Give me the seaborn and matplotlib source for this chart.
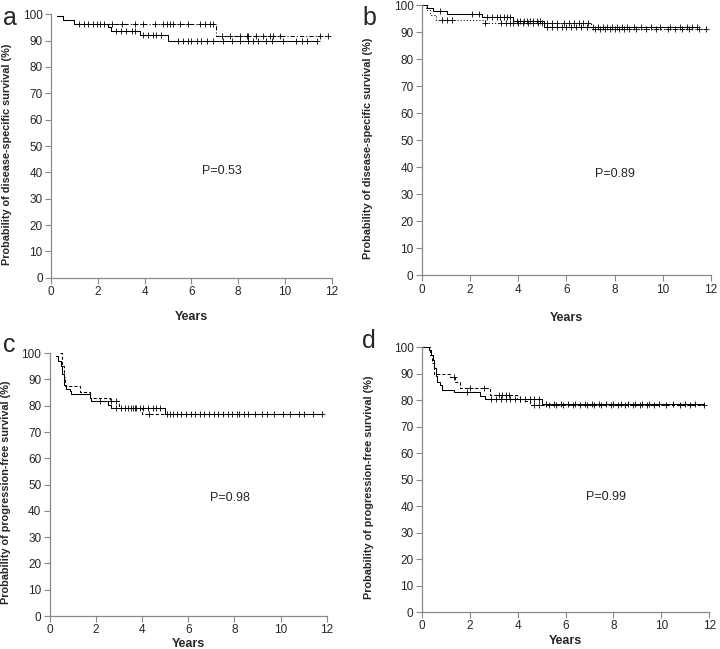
import numpy as np
import pandas as pd
import matplotlib
matplotlib.use("Agg")
import matplotlib.pyplot as plt
import seaborn as sns

sns.set_style("ticks")
plt.rcParams['font.family'] = ['Liberation Sans', 'DejaVu Sans']

# ---- data ----
# panel a: disease-specific survival
a_solid_t = [0.25, 0.5, 1.0, 2.45, 2.55, 3.8, 5.0, 11.35]
a_solid_s = [99.3, 97.8, 96.2, 95.0, 93.8, 92.2, 90.0, 90.0]
a_solid_cens = [1.2, 1.4, 1.6, 1.8, 1.95, 2.1, 2.25, 2.8, 3.0, 3.2, 3.45, 3.6,
                3.95, 4.15, 4.35, 4.5, 4.7, 5.44, 5.65, 5.86, 6.0, 6.22, 6.43,
                6.65, 6.93, 7.36, 7.72, 8.07, 8.43, 8.64, 8.86, 9.21, 9.43,
                9.92, 10.49, 10.71, 10.92, 11.35]
a_dash_t = [0.25, 0.5, 1.0, 7.05, 11.85]
a_dash_s = [99.3, 97.8, 96.2, 91.8, 91.8]
a_dash_cens = [2.59, 3.02, 3.59, 3.94, 4.44, 4.8, 4.94, 5.08, 5.22, 5.51, 5.86,
               6.36, 6.58, 6.79, 6.93, 7.29, 7.64, 8.07, 8.36, 8.43, 8.78, 9.07,
               9.35, 9.49, 9.78, 11.49, 11.84]

# panel b: disease-specific survival
b_solid_t = [0.0, 0.2, 0.45, 1.05, 2.5, 3.8, 5.05, 11.4]
b_solid_s = [100.0, 99.1, 97.9, 96.9, 95.6, 94.0, 92.1, 92.1]
b_solid_cens = [0.76, 2.07, 2.35, 2.7, 2.9, 3.1, 3.25, 3.39, 3.53, 3.67, 3.94,
                4.08, 4.22, 4.36, 4.5, 4.63, 4.77, 4.91, 5.2, 5.4, 5.6, 5.8,
                6.0, 6.2, 6.4, 6.6, 6.85, 7.1, 7.3, 7.5, 7.7, 7.9, 8.1, 8.3,
                8.5, 8.8, 9.1, 9.5, 9.9, 10.3, 10.7, 11.0, 11.2, 11.4]
b_dot_t = [0.0, 0.15, 0.35, 0.6, 2.6, 7.0, 11.8]
b_dot_s = [100.0, 98.1, 96.5, 94.5, 93.3, 91.0, 91.0]
b_dot_cens = [0.83, 1.04, 1.24, 2.63, 3.3, 3.5, 3.65, 3.8, 4.0, 4.2, 4.4, 4.6,
              4.8, 5.0, 5.2, 5.4, 5.6, 5.9, 6.1, 6.3, 6.5, 6.7, 6.9, 7.2, 7.4,
              7.6, 7.8, 8.0, 8.2, 8.4, 8.6, 8.9, 9.3, 9.7, 10.2, 10.5, 10.8,
              11.1, 11.5, 11.8]

# panel c: progression-free survival
c_solid_t = [0.26, 0.36, 0.48, 0.55, 0.62, 0.72, 0.87, 0.94, 1.73, 1.8, 2.53,
             2.67, 5.0, 11.77]
c_solid_s = [99.0, 97.0, 95.0, 92.0, 88.0, 86.5, 85.5, 84.3, 83.0, 81.7, 80.3,
             79.1, 77.0, 77.0]
c_solid_cens = [2.17, 2.89, 3.1, 3.25, 3.39, 3.54, 3.61, 3.68, 3.75, 3.9, 4.04,
                4.26, 4.48, 4.62, 4.77, 5.2, 5.5, 5.9, 6.3, 6.9, 7.5, 8.1, 8.6,
                9.4, 10.1, 10.8, 11.4]
c_dash_t = [0.45, 0.52, 0.6, 0.68, 1.3, 1.75, 2.6, 3.0, 4.0, 11.77]
c_dash_s = [100.0, 95.0, 91.0, 87.6, 85.4, 83.0, 81.7, 79.0, 77.0, 77.0]
c_dash_cens = [2.65, 2.85, 4.3, 5.1, 5.35, 5.7, 6.1, 6.5, 6.7, 7.1, 7.3, 7.7,
               7.9, 8.2, 8.4, 8.9, 9.2, 9.7, 10.4, 11.0, 11.77]

# panel d: progression-free survival
d_solid_t = [0.0, 0.28, 0.39, 0.46, 0.52, 0.57, 0.65, 0.74, 0.84, 1.32, 2.44,
             2.65, 5.01, 11.77]
d_solid_s = [100.0, 99.0, 97.0, 95.0, 92.0, 89.0, 87.0, 85.6, 84.0, 83.0, 81.5,
             80.5, 78.7, 78.7]
d_solid_cens = [1.88, 2.9, 3.1, 3.3, 3.5, 3.7, 3.9, 4.1, 4.3, 4.5, 4.7, 4.9,
                5.2, 5.5, 5.8, 6.1, 6.4, 6.8, 7.1, 7.4, 7.7, 8.0, 8.3, 8.6,
                8.9, 9.2, 9.5, 9.9, 10.5, 11.0, 11.4]
d_dash_t = [0.0, 0.35, 0.42, 0.5, 1.18, 1.4, 1.6, 2.86, 3.97, 4.25, 4.5, 11.77]
d_dash_s = [100.0, 97.0, 94.0, 90.0, 88.7, 87.0, 84.5, 82.0, 80.5, 79.5, 78.0,
            78.0]
d_dash_cens = [1.32, 2.0, 2.6, 3.2, 3.35, 3.5, 3.65, 4.1, 4.7, 4.9, 5.3, 5.6,
               5.9, 6.3, 6.6, 6.9, 7.2, 7.5, 7.9, 8.2, 8.5, 8.8, 9.1, 9.4, 9.7,
               10.2, 10.8, 11.2, 11.77]

p_values = ["P=0.53", "P=0.89", "P=0.98", "P=0.99"]
panel_letters = ["a", "b", "c", "d"]
ylabels = ["Probability of disease-specific survival (%)",
           "Probability of disease-specific survival (%)",
           "Probability of progression-free survival (%)",
           "Probability of progression-free survival (%)"]
x_ticks = [0, 2, 4, 6, 8, 10, 12]
y_ticks = [0, 10, 20, 30, 40, 50, 60, 70, 80, 90, 100]

panels = [
    [(a_solid_t, a_solid_s, a_solid_cens, '-'),
     (a_dash_t, a_dash_s, a_dash_cens, (0, (4, 2, 1, 2)))],
    [(b_solid_t, b_solid_s, b_solid_cens, '-'),
     (b_dot_t, b_dot_s, b_dot_cens, (0, (1, 2)))],
    [(c_solid_t, c_solid_s, c_solid_cens, '-'),
     (c_dash_t, c_dash_s, c_dash_cens, (0, (3, 2)))],
    [(d_solid_t, d_solid_s, d_solid_cens, '-'),
     (d_dash_t, d_dash_s, d_dash_cens, (0, (3, 2)))],
]

# layout (figure fractions), P text positions, label offsets
rects = [[0.0708, 0.572, 0.390, 0.406],
         [0.586, 0.576, 0.4015, 0.416],
         [0.069, 0.0508, 0.385, 0.405],
         [0.586, 0.057, 0.399, 0.408]]
p_pos = [(7.3, 40.5), (8.0, 37.5), (7.8, 45.0), (7.7, 43.5)]
ylab_x = [-0.139, -0.168, -0.139, -0.168]
xlab_y = [-0.128, -0.135, -0.083, -0.085]
letter_pos = [(0.004, 0.99), (0.503, 0.99), (0.004, 0.487), (0.503, 0.493)]

fig = plt.figure(figsize=(7.2, 6.49), dpi=100)
spine_col = '#8a8a8a'

for i, curves in enumerate(panels):
    ax = fig.add_axes(rects[i])
    for t, s, cens, ls in curves:
        df = pd.DataFrame({'t': t, 's': s})
        sns.lineplot(data=df, x='t', y='s', drawstyle='steps-post',
                     estimator=None, color='black', linewidth=0.75,
                     linestyle=ls, ax=ax)
        idx = np.searchsorted(t, cens, side='right') - 1
        cdf = pd.DataFrame({'t': cens, 's': np.asarray(s)[idx]})
        sns.scatterplot(data=cdf, x='t', y='s', marker='+', s=18,
                        color='black', linewidth=0.6, ax=ax)

    ax.set_xlim(0, 12)
    ax.set_ylim(0, 100)
    ax.set_xticks(x_ticks)
    ax.set_yticks(y_ticks)
    ax.tick_params(labelsize=8.5, length=4, width=0.8, color=spine_col,
                   direction='out', pad=2)
    for side in ['top', 'right']:
        ax.spines[side].set_visible(False)
    for side in ['left', 'bottom']:
        ax.spines[side].set_color(spine_col)
        ax.spines[side].set_linewidth(0.9)
    ax.set_ylabel(ylabels[i], fontsize=7.8, fontweight='bold')
    ax.set_xlabel('Years', fontsize=9, fontweight='bold')
    ax.yaxis.set_label_coords(ylab_x[i], 0.47)
    ax.xaxis.set_label_coords(0.5, xlab_y[i])
    ax.text(p_pos[i][0], p_pos[i][1], p_values[i], fontsize=9,
            ha='center', va='center')
    fig.text(letter_pos[i][0], letter_pos[i][1], panel_letters[i],
             fontsize=18, ha='left', va='top')

fig.savefig('out.png', dpi=100)
